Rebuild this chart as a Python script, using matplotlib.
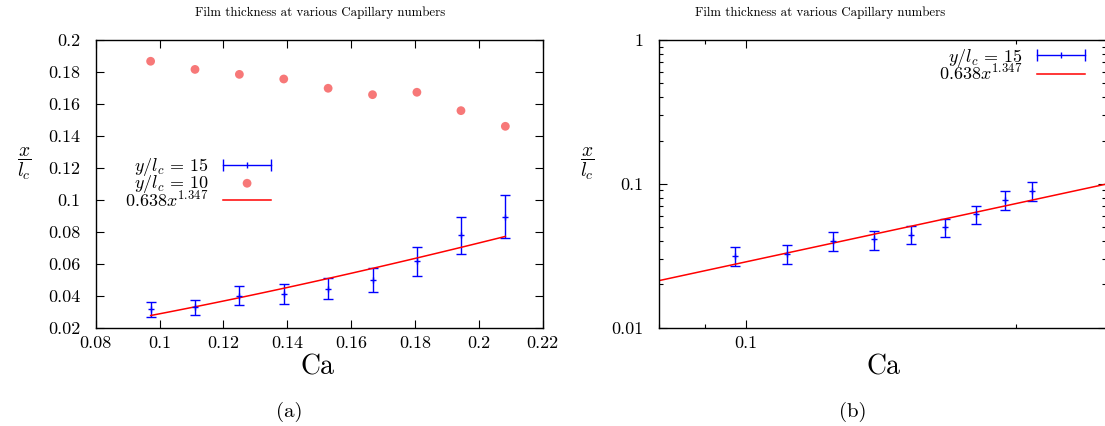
import numpy as np
import matplotlib
matplotlib.use("Agg")
import matplotlib.pyplot as plt
import matplotlib.ticker as ticker
from matplotlib.lines import Line2D
from matplotlib.legend_handler import HandlerLine2D, HandlerTuple

plt.rcParams["font.family"] = "cmr10"
plt.rcParams["mathtext.fontset"] = "cm"
plt.rcParams["axes.formatter.use_mathtext"] = True

# data
ca = [0.0972, 0.1111, 0.1250, 0.1389, 0.1528, 0.1667, 0.1806, 0.1944, 0.2083]
thick15 = [0.0315, 0.0327, 0.0400, 0.0411, 0.0444, 0.0498, 0.0615, 0.0778, 0.0895]
err15 = [0.0047, 0.0048, 0.0060, 0.0062, 0.0065, 0.0074, 0.0092, 0.0116, 0.0134]
thick10 = [0.1867, 0.1816, 0.1785, 0.1756, 0.1698, 0.1658, 0.1673, 0.1558, 0.1460]
fit_a = 0.638
fit_b = 1.347

title = "Film thickness at various Capillary numbers"
lab15 = r"$y/l_c\,=\,15$"
lab10 = r"$y/l_c\,=\,10$"
labfit = r"$0.638x^{1.347}$"

blue = "#0000ff"
red = "#ff0000"
pink = "#f77878"

fig = plt.figure(figsize=(11.05, 4.26), dpi=100)
W, H = 1105.0, 426.0
axa = fig.add_axes([95.7 / W, 1 - 327.7 / H, 447 / W, 287.7 / H])
axb = fig.add_axes([659 / W, 1 - 327.7 / H, 447 / W, 287.7 / H])


def err_handle():
    caps = Line2D([], [], color=blue, lw=1, marker="|", ms=8, mew=1)
    mid = Line2D([], [], color=blue, lw=0, marker="|", ms=4, mew=1)
    hmap = {caps: HandlerLine2D(numpoints=2, marker_pad=0),
            mid: HandlerLine2D(numpoints=1)}
    handle = (caps, mid)
    hmap[handle] = HandlerTuple(ndivide=1, pad=0)
    return handle, hmap


# ---- panel (a)
ax = axa
ax.errorbar(ca, thick15, yerr=err15, fmt="+", color=blue, ms=5, mew=1,
            elinewidth=1, capsize=3.5, capthick=1)
sc = ax.scatter(ca, thick10, s=40, color=pink, edgecolors="none", zorder=3)
xf = np.linspace(ca[0], ca[-1], 50)
ax.plot(xf, fit_a * xf ** fit_b, color=red, lw=1.1)
ax.set_xlim(0.08, 0.22)
ax.set_ylim(0.02, 0.2)
ax.xaxis.set_major_locator(ticker.MultipleLocator(0.02))
ax.yaxis.set_major_locator(ticker.MultipleLocator(0.02))
fmt = ticker.FuncFormatter(lambda v, p: f"{v:.2f}".rstrip("0").rstrip(".") if v else "0")
ax.xaxis.set_major_formatter(fmt)
ax.yaxis.set_major_formatter(fmt)
eh, hmap = err_handle()
fit_h = Line2D([], [], color=red, lw=1.1)
ax.legend([eh, sc, fit_h], [lab15, lab10, labfit], handler_map=hmap,
          markerfirst=False, frameon=False, fontsize=13, scatterpoints=1,
          loc="center right", bbox_to_anchor=((271 - 95.7) / 447, (327.7 - 183) / 287.7),
          borderpad=0, borderaxespad=0, labelspacing=-0.3, handlelength=2.65,
          handletextpad=0.8)

# ---- panel (b)
ax = axb
ax.set_xscale("log")
ax.set_yscale("log")
ax.errorbar(ca, thick15, yerr=err15, fmt="+", color=blue, ms=5, mew=1,
            elinewidth=1, capsize=3.5, capthick=1)
xf = np.geomspace(0.08, 0.2518, 50)
ax.plot(xf, fit_a * xf ** fit_b, color=red, lw=1.1)
ax.set_xlim(0.08, 0.2518)
ax.set_ylim(0.01, 1)
logfmt = ticker.FuncFormatter(lambda v, p: f"{v:g}")
ax.xaxis.set_major_formatter(logfmt)
ax.yaxis.set_major_formatter(logfmt)
ax.xaxis.set_minor_formatter(ticker.NullFormatter())
ax.yaxis.set_minor_formatter(ticker.NullFormatter())
eh, hmap = err_handle()
fit_h = Line2D([], [], color=red, lw=1.1)
ax.legend([eh, fit_h], [lab15, labfit], handler_map=hmap,
          markerfirst=False, frameon=False, fontsize=13,
          loc="center right", bbox_to_anchor=((1085 - 659) / 447, (327.7 - 65) / 287.7),
          borderpad=0, borderaxespad=0, labelspacing=-0.3, handlelength=2.65,
          handletextpad=0.8)

for ax in (axa, axb):
    ax.tick_params(which="both", direction="in", top=True, right=True,
                   labelsize=13, width=0.8)
    ax.tick_params(which="major", length=5.8)
    ax.tick_params(which="minor", length=3.2)
    ax.tick_params(axis="x", pad=6)
    ax.tick_params(axis="y", pad=11)
    for s in ax.spines.values():
        s.set_linewidth(1)
    ax.set_ylabel(r"$\dfrac{x}{l_c}$", rotation=0, fontsize=14, labelpad=0)

axa.yaxis.set_label_coords((24 - 95.7) / 447, (327.7 - 181.7) / 287.7)
axb.yaxis.set_label_coords((587 - 659) / 447, (327.7 - 181.7) / 287.7)

fig.text(320 / W, 1 - 13 / H, title, ha="center", va="center", fontsize=9.3)
fig.text(820 / W, 1 - 13 / H, title, ha="center", va="center", fontsize=9.3)
fig.text(318 / W, 1 - 367 / H, "Ca", ha="center", va="center", fontsize=20)
fig.text(883 / W, 1 - 367 / H, "Ca", ha="center", va="center", fontsize=20)
fig.text(289.5 / W, 1 - 412 / H, "(a)", ha="center", va="center", fontsize=15)
fig.text(853 / W, 1 - 412 / H, "(b)", ha="center", va="center", fontsize=15)

fig.savefig("out.png", dpi=100)
